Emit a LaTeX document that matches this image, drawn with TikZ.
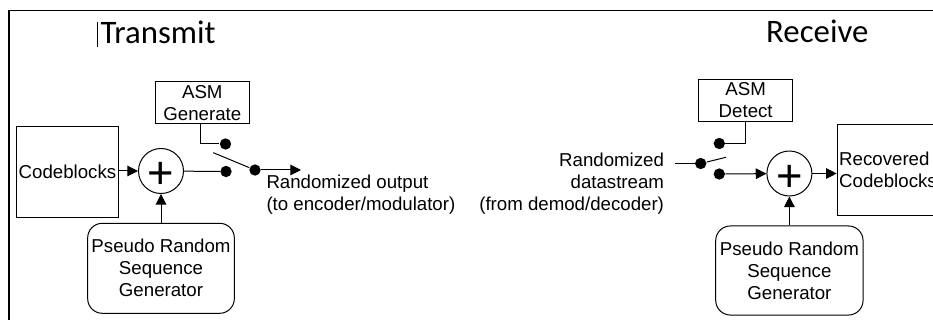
\documentclass[tikz,border=0pt]{standalone}
\usepackage{fontspec}
\setmainfont{Liberation Sans}
\newfontfamily\titlefont{Carlito}
\usetikzlibrary{arrows.meta}

\tikzset{every picture/.style={line width=0.75pt}}

\begin{document}
\begin{tikzpicture}[x=0.75pt,y=0.75pt,yscale=-1,xscale=1,
  lbl/.style={font=\fontsize{14}{16.5}\selectfont, inner sep=0.75pt},
  blockbox/.style={draw, lbl, align=center},
  roundbox/.style={draw, lbl, align=center, rounded corners=11pt},
  adder/.style={draw, circle, inner sep=0pt, minimum size=33.75pt,
    label={[font=\fontsize{34}{34}\selectfont, inner sep=0pt, yshift=-3.5pt]center:+}},
  contact/.style={circle, fill, inner sep=0pt, minimum size=8.5pt},
  flow/.style={-{Triangle[length=8pt,width=8pt]}},
  title/.style={anchor=base west, inner sep=0pt, font=\titlefont\fontsize{24.6}{28}\selectfont}]
\useasboundingbox (0,0) rectangle (933,320);
\clip (0,0) rectangle (933,320);

% Frame
\draw [line width=1.3pt] (940,10.5) -- (9,10.5) -- (9,330);
% cursor
\draw [line width=0.4pt] (97,22) -- (97,47);

% Text Node
\node [title] (txTitle) at (100,43.3) {Transmit};
% Text Node
\node [title] (rxTitle) at (765.7,42.7) {Receive};

%%% Transmit side
\node [blockbox, minimum width=76.2pt, minimum height=68pt] (codeT) at (67.5,172) {Codeblocks};
\node [adder] (adderT) at (161,171) {};
\node [blockbox, minimum width=70.5pt, minimum height=31.3pt] (asmT) at (202.3,102.8) {ASM\\Generate};
\node [roundbox, minimum width=110pt, minimum height=67.5pt] (prsgT) at (161,268.3) {Pseudo Random\\Sequence\\Generator};
\node [contact] (dotTa) at (225.5,144) {};
\node [contact] (dotTb) at (226,171.5) {};
\node [contact] (dotTc) at (255,170) {};
\coordinate (armT) at (213.3,152.7);
\coordinate (outT) at (301,170);
% Text Node
\node [lbl, anchor=west, align=left] (outTxt) at (265,194.4) {Randomized output\\(to encoder/modulator)};

\draw [flow] (codeT.east |- adderT.west) -- (adderT.west);
\draw [flow] (prsgT) -- (adderT);
\draw (adderT) -- (dotTb);
\draw (asmT.south -| 200.7,0) |- (dotTa);
\draw (armT) -- (dotTc);
\draw [flow] (dotTc) -- (outT);

%%% Receive side
\node [blockbox, minimum width=70.5pt, minimum height=31.7pt] (asmR) at (745.7,100.2) {ASM\\Detect};
\node [adder] (adderR) at (789.4,173.5) {};
\node [blockbox, anchor=west, align=left, minimum width=76.2pt, minimum height=68pt] (recR) at (836.7,169.7) {Recovered\\Codeblocks};
\node [roundbox, minimum width=110.5pt, minimum height=66.8pt] (prsgR) at (789.4,270.5) {Pseudo Random\\Sequence\\Generator};
\node [contact] (dotRa) at (700.7,163.5) {};
\node [contact] (dotRb) at (719.3,174) {};
\node [contact] (dotRc) at (719.3,143.5) {};
\coordinate (inR) at (675,163.5);
\coordinate (armR) at (726,157.3);
% Text Node
\node [lbl, anchor=east, align=right] (inTxt) at (665.5,183.4) {Randomized\\datastream\\(from demod/decoder)};

\draw (inR) -- (dotRa);
\draw (dotRa) -- (armR);
\draw (asmR.south -| 745,0) |- (dotRc);
\draw [flow] (dotRb) -- (adderR);
\draw [flow] (adderR.east) -- (adderR.east -| recR.west);
\draw [flow] (prsgR) -- (adderR);

\end{tikzpicture}
\end{document}
